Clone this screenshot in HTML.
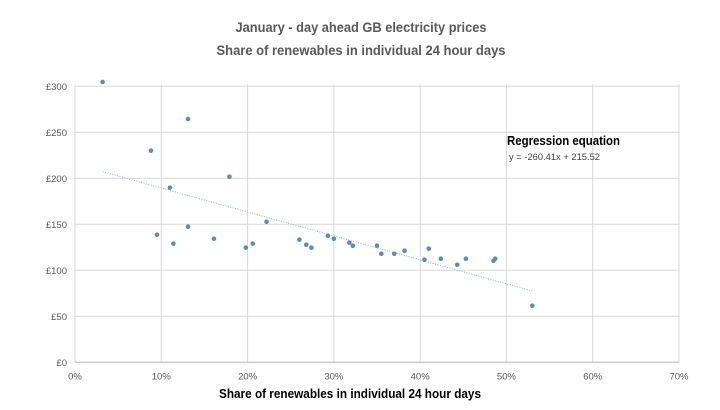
<!DOCTYPE html>
<html><head><meta charset="utf-8"><style>
body{margin:0;background:#fff;}
svg text{font-family:"Liberation Sans",sans-serif;}
</style></head><body>
<svg id="chart" width="720" height="405" viewBox="0 0 720 405" xmlns="http://www.w3.org/2000/svg">
<text x="361" y="32" text-anchor="middle" font-size="14" font-weight="bold" fill="#595959" textLength="251" lengthAdjust="spacingAndGlyphs">January - day ahead GB electricity prices</text>
<text x="361" y="55" text-anchor="middle" font-size="14" font-weight="bold" fill="#595959" textLength="289" lengthAdjust="spacingAndGlyphs">Share of renewables in individual 24 hour days</text>
<g id="grid"></g><g id="axes"></g><g id="trend"></g><g id="pts"></g>
<text x="507" y="145" font-size="13" font-weight="bold" fill="#000" textLength="113" lengthAdjust="spacingAndGlyphs">Regression equation</text>
<text x="509" y="160" font-size="9" fill="#404040" textLength="91" lengthAdjust="spacingAndGlyphs">y = -260.41x + 215.52</text>
<text x="350" y="398" text-anchor="middle" font-size="13" font-weight="bold" fill="#000" textLength="262" lengthAdjust="spacingAndGlyphs">Share of renewables in individual 24 hour days</text>
</svg>
<script>
const shareX=[3.2,8.8,13.1,9.5,11.0,11.4,13.1,17.9,16.1,22.2,19.8,20.6,26.0,26.8,27.4,29.3,30.0,31.8,32.2,35.0,35.5,37.0,38.2,40.5,41.0,42.4,44.3,45.3,48.5,48.7,53.0];
const priceY=[304.7,230,264.5,138.7,189.8,129,147.4,201.7,134.3,152.8,124.6,129,133.3,127.8,124.6,137.6,134.3,130,126.7,126.7,118,118,121.3,111.5,123.5,112.6,106,112.6,110.4,112.6,61.5];
const xTicks=[0,10,20,30,40,50,60,70];
const yTicks=[0,50,100,150,200,250,300];
const slope=-260.41, intercept=215.52;
const NS="http://www.w3.org/2000/svg";
const X0=75,X1=679,Y0=362.3,Y1=86.3;
const xs=v=>X0+(v/70)*(X1-X0);
const ys=v=>Y0-(v/300)*(Y0-Y1);
function mk(tag,attrs,parent){const e=document.createElementNS(NS,tag);for(const k in attrs)e.setAttribute(k,attrs[k]);document.getElementById(parent).appendChild(e);return e;}
yTicks.forEach(t=>{
 const l=mk('line',{x1:X0,x2:X1,y1:ys(t),y2:ys(t),stroke:'#d9d9d9','stroke-width':1},'grid');
 
 
 const tx=mk('text',{x:X0-8,y:ys(t)+3.5,'text-anchor':'end','font-size':9.5,fill:'#595959'},'axes');
 tx.textContent='£'+t;
 
 
});
xTicks.forEach(t=>{
 const l=mk('line',{x1:xs(t),x2:xs(t),y1:Y1-2,y2:Y0,stroke:'#d9d9d9','stroke-width':1},'grid');
 
 
 const tx=mk('text',{x:xs(t),y:Y0+17,'text-anchor':'middle','font-size':9.5,fill:'#595959'},'axes');
 tx.textContent=t+'%';
 
 
});
const ax=mk('line',{x1:X0,x2:X1,y1:Y0,y2:Y0,stroke:'#bfbfbf','stroke-width':1},'axes');


const mn=Math.min(...shareX),mx=Math.max(...shareX);
const tl=mk('line',{x1:xs(mn),y1:ys(slope*mn/100+intercept),x2:xs(mx),y2:ys(slope*mx/100+intercept),stroke:'#8fb3cc','stroke-width':1,'stroke-dasharray':'1 1.5'},'trend');


shareX.forEach((v,i)=>{
 const c=mk('circle',{cx:xs(v),cy:ys(priceY[i]),r:2.3,fill:'#5b8db8'},'pts');
 
 
});
</script>
</body></html>
